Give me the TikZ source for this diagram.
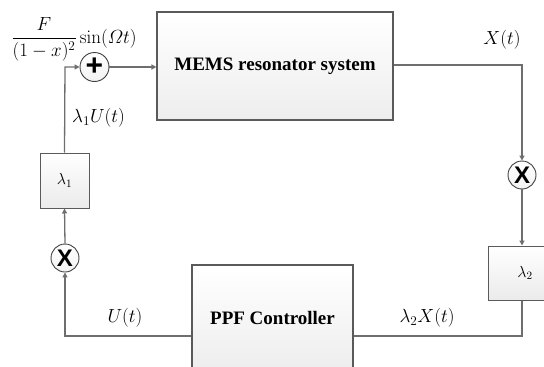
\RequirePackage{fix-cm}
\documentclass[tikz,border=0pt]{standalone}
\usepackage{amsmath}
\usepackage[no-math]{fontspec}
\setmainfont{Liberation Serif}[BoldFont={Liberation Serif Bold},ItalicFont={Liberation Serif Italic}]
\newfontfamily\symfont{Liberation Sans}[BoldFont={Liberation Sans Bold}]
\usetikzlibrary{arrows.meta,shadows}
\definecolor{wire}{HTML}{6E6E6E}
\definecolor{edge}{HTML}{5A5A5A}
\tikzset{
  block/.style={draw=edge, line width=1.1pt, top color=white, bottom color=black!7,
    drop shadow={shadow xshift=1.2pt, shadow yshift=-1.2pt, fill=black!35, opacity=0.6},
    inner sep=0pt, font=\rmfamily\bfseries\fontsize{19}{22}\selectfont},
  gain/.style={draw=edge, line width=1pt, top color=white, bottom color=black!8,
    inner sep=0pt, font=\fontsize{16}{18}\selectfont},
  junction/.style={circle, draw=black!75, line width=0.9pt, top color=white, bottom color=black!5,
    minimum size=28pt, inner sep=0pt, font=\symfont\bfseries},
  wireline/.style={draw=wire, line width=1.3pt},
  flow/.style={wireline, -{Triangle[length=5pt,width=5pt]}},
  lbl/.style={inner sep=0pt, font=\fontsize{19}{22}\selectfont}
}
\begin{document}
\begin{tikzpicture}[x=1pt,y=-1pt]
\useasboundingbox (0,0) rectangle (544,367);
\clip (0,0) rectangle (544,367);

% main blocks
\node[block, minimum width=236pt, minimum height=108pt] (mems) at (275,66) {MEMS resonator system};
\node[block, minimum width=161pt, minimum height=106pt] (ppf) at (272.5,318) {PPF Controller};

% gain blocks
\node[gain, minimum width=49pt, minimum height=55pt] (g1) at (64.5,180.5) {$\lambda_1$};
\node[gain, minimum width=74pt, minimum height=54pt] (g2) at (525,273) {$\lambda_2$};

% summing and multiplying junctions
\node[junction, minimum size=29pt] (sum) at (94.5,67) {\fontsize{30}{30}\selectfont +};
\node[junction] (m1) at (522,175) {\fontsize{24}{24}\selectfont X};
\node[junction] (m2) at (65,258) {\fontsize{24}{24}\selectfont X};

% corner points of the loop
\coordinate (c1) at (522,65);
\coordinate (c2) at (522,336);
\coordinate (c3) at (65,336);
\coordinate (c4) at (65,67);

% forward path
\draw[flow] (sum.east) -- (sum.east -| mems.west);
\draw[flow] (mems.east |- c1) -- (c1) -- (m1.north);
\draw[flow] (m1.south) -- (m1.south |- g2.north);
\draw[wireline] (g2.south -| c2) -- (c2) -- (c2 -| ppf.east);

% feedback path
\draw[flow] (ppf.west |- c3) -- (c3) -- (m2.south);
\draw[flow] (m2.north) -- (g1.south);
\draw[flow] (g1.north) -- (c4) -- (sum.west);

% signal labels
\node[lbl] (inp) at (74,39) {$\dfrac{F}{(1-x)^{2}}\sin(\varOmega t)$};
\node[lbl, anchor=west] (l1u) at (72,118) {$\lambda_1 U(t)$};
\node[lbl] (xt) at (502,40) {$X(t)$};
\node[lbl] (ut) at (125,318) {$U(t)$};
\node[lbl] (l2x) at (427,318) {$\lambda_2 X(t)$};
\end{tikzpicture}
\end{document}
